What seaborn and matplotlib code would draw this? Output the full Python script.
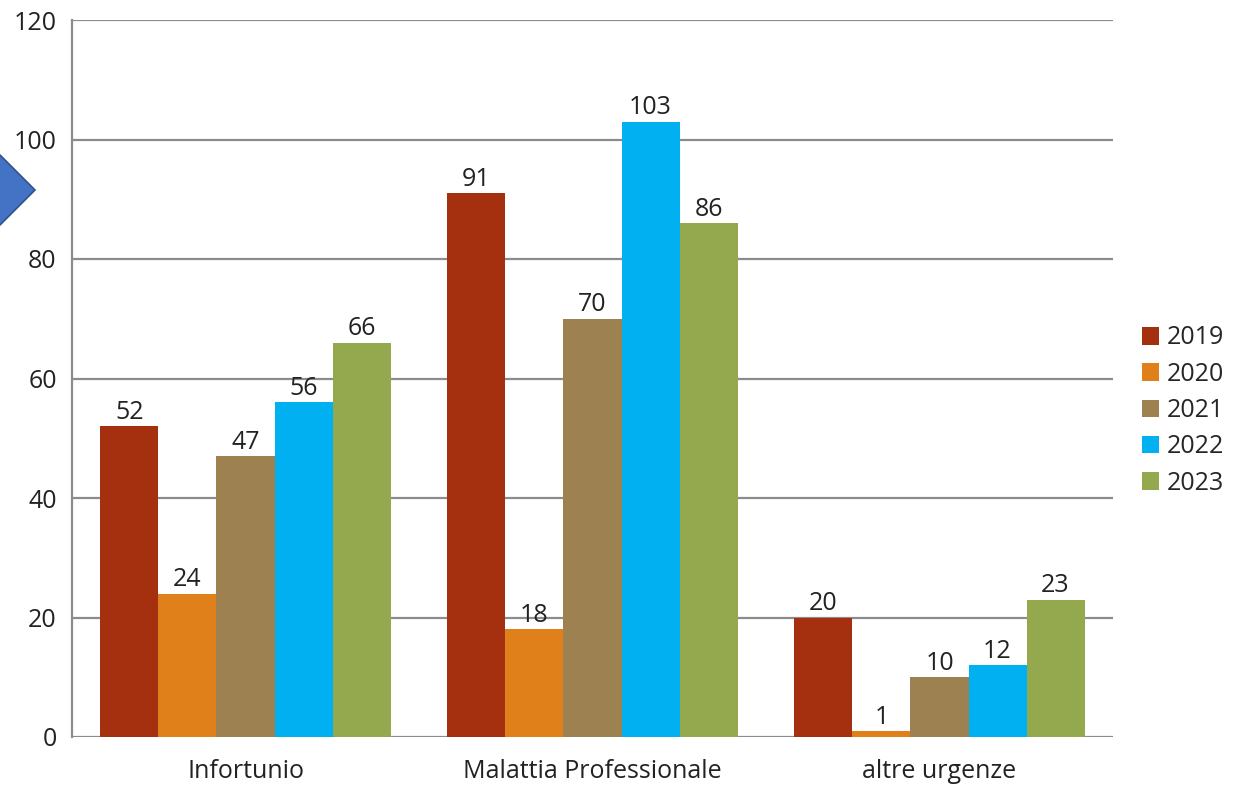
import pandas as pd
import matplotlib.pyplot as plt
import seaborn as sns
from matplotlib.patches import Polygon, Patch

# dati
categorie = ["Infortunio", "Malattia Professionale", "altre urgenze"]
anni = ["2019", "2020", "2021", "2022", "2023"]
v2019 = [52, 91, 20]
v2020 = [24, 18, 1]
v2021 = [47, 70, 10]
v2022 = [56, 103, 12]
v2023 = [66, 86, 23]
colori = ["#A5300F", "#E0801B", "#9E8150", "#00B0F0", "#94A84E"]

valori = [v2019, v2020, v2021, v2022, v2023]
righe = []
for anno, serie in zip(anni, valori):
    for cat, v in zip(categorie, serie):
        righe.append({"categoria": cat, "anno": anno, "valore": v})
df = pd.DataFrame(righe)

sns.set_style("white")
plt.rcParams["font.family"] = ["Open Sans", "DejaVu Sans"]

fig = plt.figure(figsize=(12.34, 7.85), dpi=100)
ax = fig.add_axes([72 / 1234, 48 / 785, (1113 - 72) / 1234, (737 - 20) / 785])

sns.barplot(data=df, x="categoria", y="valore", hue="anno", palette=colori,
            width=0.836, gap=0, ax=ax, legend=False, edgecolor="none",
            saturation=1)

for c in ax.containers:
    ax.bar_label(c, fontsize=18, color="#222222", padding=1)

ax.set_ylim(0, 120)
ax.set_xlim(-0.5, 2.5)
ax.set_yticks(range(0, 121, 20))
ax.yaxis.grid(True, color="#8c8c8c", linewidth=1.6)
ax.set_axisbelow(True)
for s in ["top", "right", "bottom"]:
    ax.spines[s].set_visible(False)
ax.spines["left"].set_color("#8c8c8c")
ax.spines["left"].set_linewidth(1.6)
ax.tick_params(axis="both", length=0, labelsize=18, colors="#222222")
ax.tick_params(axis="y", pad=11)
ax.tick_params(axis="x", pad=16)
ax.set_xlabel("")
ax.set_ylabel("")

# legenda
handles = [Patch(facecolor=c, edgecolor="none") for c in colori]
fig.legend(handles, anni, loc="upper left", bbox_to_anchor=(1129 / 1234, 1 - 313 / 785),
           frameon=False, fontsize=18, handlelength=0.7, handleheight=0.7,
           handletextpad=0.3, labelspacing=0.45, borderpad=0)

# freccia blu a sinistra
freccia = Polygon([(-0.02, 1 - 155 / 785), (0, 1 - 155 / 785), (35 / 1234, 1 - 190 / 785),
                   (0, 1 - 225 / 785), (-0.02, 1 - 225 / 785)], closed=True,
                  transform=fig.transFigure, facecolor="#4472C4", edgecolor="#2F528F",
                  linewidth=1.2, clip_on=False)
fig.patches.append(freccia)

fig.savefig("out.png", dpi=100)
